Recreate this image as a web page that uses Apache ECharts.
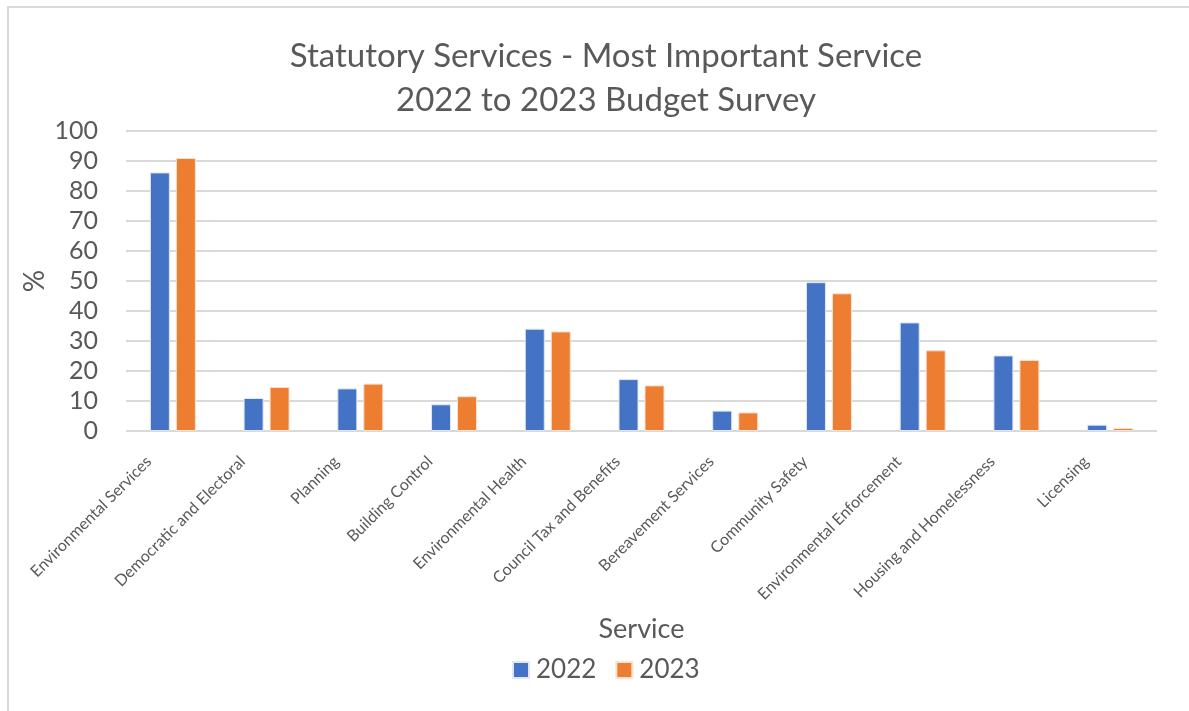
<!DOCTYPE html>
<html>
<head>
<meta charset="utf-8">
<script src="https://cdn.jsdelivr.net/npm/echarts@6/dist/echarts.min.js"></script>
<style>
html,body{margin:0;padding:0;background:#fff;}
#main{width:1189px;height:711px;}
</style>
</head>
<body>
<div id="main"></div>
<script>
const categories = ['Environmental Services','Democratic and Electoral','Planning','Building Control','Environmental Health','Council Tax and Benefits','Bereavement Services','Community Safety','Environmental Enforcement','Housing and Homelessness','Licensing'];
const values2022 = [86.2, 11.0, 14.2, 8.9, 34.1, 17.3, 6.8, 49.6, 36.2, 25.2, 2.1];
const values2023 = [91.0, 14.7, 15.8, 11.6, 33.2, 15.2, 6.2, 45.9, 26.9, 23.7, 1.0];
const seriesNames = ['2022', '2023'];

const FONT = 'Lato, "Open Sans", sans-serif';
const chart = echarts.init(document.getElementById('main'));
chart.setOption({
  animation: false,
  textStyle: { fontFamily: FONT },
  graphic: [{
    type: 'rect', shape: { x: 8, y: 7, width: 1200, height: 800 },
    style: { fill: 'none', stroke: '#d9d9d9', lineWidth: 2 }, silent: true, z: -1
  }],
  title: {
    text: 'Statutory Services - Most Important Service\n2022 to 2023 Budget Survey',
    left: 601, top: 29, textAlign: 'center',
    textStyle: { fontFamily: FONT, fontSize: 33, fontWeight: 'normal', color: '#595959', lineHeight: 44 }
  },
  legend: {
    data: seriesNames, bottom: 28, left: 512, padding: 0, icon: 'rect',
    itemWidth: 16, itemHeight: 16, itemGap: 19,
    textStyle: { fontFamily: FONT, fontSize: 26, color: '#595959', padding: [0, 0, 0, 2] }
  },
  grid: { left: 126, right: 32, top: 131, bottom: 280, containLabel: false },
  xAxis: {
    type: 'category', data: categories,
    name: 'Service', nameLocation: 'middle', nameGap: 185,
    nameTextStyle: { fontFamily: FONT, fontSize: 27, color: '#595959' },
    axisLine: { show: false }, axisTick: { show: false },
    axisLabel: { rotate: 45, interval: 0, margin: 4, fontSize: 16, color: '#595959', fontFamily: FONT, padding: [0, 34, 0, 0] }
  },
  yAxis: {
    type: 'value', min: 0, max: 100, interval: 10,
    name: '%', nameLocation: 'middle', nameGap: 77, nameRotate: 90, nameMoveOverlap: false,
    nameTextStyle: { fontFamily: FONT, fontSize: 28, color: '#595959' },
    axisLabel: { fontSize: 25, color: '#595959', margin: 28, fontFamily: FONT },
    splitLine: { lineStyle: { color: '#d9d9d9', width: 2 } }
  },
  series: [
    { name: seriesNames[0], type: 'bar', data: values2022, barWidth: 20, barGap: '30%',
      itemStyle: { color: '#4472C4', borderColor: '#dfe7f5', borderWidth: 1 } },
    { name: seriesNames[1], type: 'bar', data: values2023, barWidth: 20, barGap: '30%',
      itemStyle: { color: '#ED7D31', borderColor: '#fbe2d2', borderWidth: 1 } }
  ]
});
</script>
</body>
</html>
